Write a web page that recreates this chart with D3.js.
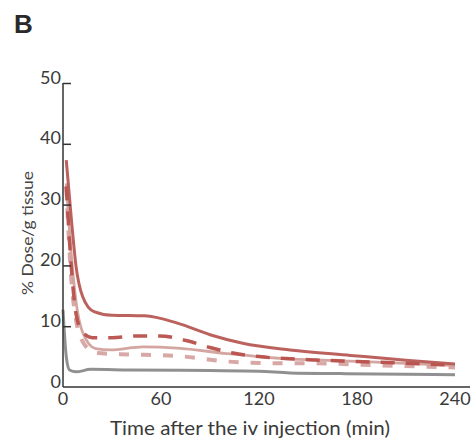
<!DOCTYPE html>
<html>
<head>
<meta charset="utf-8">
<script src="https://cdn.jsdelivr.net/npm/d3@7"></script>
<style>
  body { margin: 0; background: #fff; }
  svg { display: block; }
  text { font-family: Lato, "Open Sans", sans-serif; fill: #333; }
</style>
</head>
<body>
<svg id="chart" width="474" height="442"></svg>
<script>
// ---- data ----
const xTicks = [0, 60, 120, 180, 240];
const yTicks = [0, 10, 20, 30, 40, 50];

const solidRed = [
  [2, 37.3], [5, 28], [8, 19.8], [12, 14.9], [19, 12.4], [30, 11.8], [50, 11.7],
  [70, 10.5], [90, 8.6], [110, 7.2], [139, 6.1], [176, 5.2], [210, 4.4], [240, 3.8]
];
const dashedRed = [
  [2, 33], [5, 20], [8, 12], [12, 9], [18, 8.1], [30, 8.1], [45, 8.4], [59, 8.4],
  [76, 7.6], [90, 6.5], [104, 5.6], [120, 5.0], [150, 4.5], [180, 4.2], [210, 3.9], [240, 3.6]
];
const solidPink = [
  [2, 33.5], [5, 22], [8, 14], [12, 9], [20, 6.3], [29, 6.1], [49, 6.6], [70, 6.4],
  [100, 5.5], [133, 4.7], [170, 4.3], [210, 3.9], [240, 3.5]
];
const dashedPink = [
  [2, 33], [5, 18], [8, 11], [12, 7.5], [20, 5.6], [35, 5.4], [70, 5.1], [100, 4.2],
  [131, 3.9], [153, 3.9], [190, 3.6], [240, 3.2]
];
const grayLine = [
  [0, 12.7], [2, 5], [4, 2.8], [8, 2.5], [17, 2.9], [40, 2.8], [90, 2.7], [120, 2.6],
  [139, 2.3], [170, 2.2], [210, 2.1], [240, 2.0]
];

const series = [
  { name: "gray", data: grayLine, color: "#8a8a8a", width: 3, dash: null },
  { name: "dashedPink", data: dashedPink, color: "#d6a3a1", width: 4, dash: "10,12" },
  { name: "solidPink", data: solidPink, color: "#d2a19c", width: 2.8, dash: null },
  { name: "dashedRed", data: dashedRed, color: "#b8504c", width: 3.5, dash: "14,11" },
  { name: "solidRed", data: solidRed, color: "#b75a55", width: 3, dash: null }
];

// ---- layout ----
const svg = d3.select("#chart");
const x0 = 63, x1 = 455, yTop = 83, yBottom = 387;
const x = d3.scaleLinear().domain([0, 240]).range([x0, x1]);
const y = d3.scaleLinear().domain([0, 50]).range([yBottom, yTop]);

// panel letter
svg.append("text").attr("x", 14).attr("y", 33)
  .style("font-family", "'Liberation Sans', Arial, sans-serif")
  .style("font-weight", "bold").style("font-size", "26px").style("fill", "#2a2a2a")
  .text("B");

// lines
const line = d3.line().x(d => x(d[0])).y(d => y(d[1])).curve(d3.curveMonotoneX);
series.forEach(s => {
  svg.append("path").datum(s.data)
    .attr("d", line)
    .attr("fill", "none")
    .attr("stroke", s.color)
    .attr("stroke-width", s.width)
    .attr("stroke-dasharray", s.dash)
    .attr("stroke-linejoin", "round")
    .attr("opacity", 0.95);
});

// y axis
const yAxis = d3.axisRight(y).tickValues(yTicks).tickSize(8).tickFormat("");
const gy = svg.append("g").attr("transform", `translate(${x0},0)`).call(yAxis);
gy.select(".domain").attr("d", `M0,${yTop}V${yBottom}`).attr("stroke", "#333").attr("stroke-width", 1.5);
gy.selectAll(".tick line").attr("stroke", "#333").attr("stroke-width", 1.5);
gy.selectAll(".tick").filter(d => d === 0).select("line").remove();

svg.append("g").selectAll("text").data(yTicks).join("text")
  .attr("x", 61).attr("y", d => y(d) - 4)
  .attr("text-anchor", "end").attr("dominant-baseline", "middle")
  .style("font-size", "18px").style("fill", "#3a3a3a")
  .text(d => d);

// x axis
const xAxis = d3.axisBottom(x).tickValues(xTicks).tickSize(0).tickFormat("");
const gx = svg.append("g").attr("transform", `translate(0,${yBottom})`).call(xAxis);
gx.select(".domain").attr("d", `M${x0},0H470`).attr("stroke", "#333").attr("stroke-width", 1.5);

svg.append("g").selectAll("text").data(xTicks).join("text")
  .attr("x", d => x(d)).attr("y", 400)
  .attr("text-anchor", "middle").attr("dominant-baseline", "middle")
  .style("font-size", "18px").style("fill", "#3a3a3a")
  .text(d => d);

// axis titles
svg.append("text").attr("x", 250).attr("y", 430)
  .attr("text-anchor", "middle").attr("dominant-baseline", "middle")
  .style("font-size", "19px").style("fill", "#3a3a3a")
  .attr("textLength", 280).attr("lengthAdjust", "spacingAndGlyphs")
  .text("Time after the iv injection (min)");

svg.append("text")
  .attr("transform", "translate(29,233) rotate(-90)")
  .attr("text-anchor", "middle").attr("dominant-baseline", "middle")
  .style("font-size", "15px").style("fill", "#444")
  .attr("textLength", 124).attr("lengthAdjust", "spacingAndGlyphs")
  .text("% Dose/g tissue");
</script>
</body>
</html>
